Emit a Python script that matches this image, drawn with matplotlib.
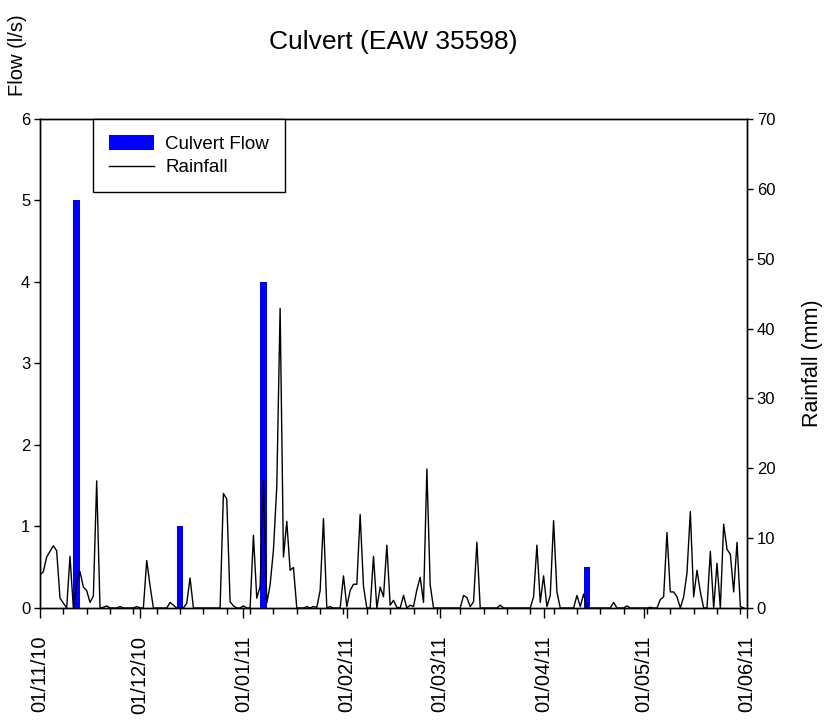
import matplotlib
matplotlib.use("Agg")
import matplotlib.pyplot as plt
import matplotlib.dates as mdates
from matplotlib.patches import Patch
from matplotlib.lines import Line2D
from matplotlib.ticker import FixedLocator
import pandas as pd

plt.rcParams["font.family"] = ["Liberation Sans", "DejaVu Sans"]

# daily rainfall (mm), one value per day starting 01/11/10
rain_start = "2010-11-01"
rainfall_mm = [
    4.7, 5.2, 7.3, 8.1, 8.9, 8.2, 1.4, 0.7, 0.0, 7.4,      # 1-10 Nov
    0.0, 3.5, 5.2, 3.0, 2.5, 0.8, 1.7, 18.2, 0.0, 0.1,     # 11-20 Nov
    0.3, 0.0, 0.0, 0.0, 0.2, 0.0, 0.0, 0.0, 0.0, 0.2,      # 21-30 Nov
    0.0, 0.0, 6.8, 3.2, 0.0, 0.0, 0.0, 0.0, 0.0, 0.8,      # 1-10 Dec
    0.4, 0.0, 0.0, 0.0, 0.7, 4.3, 0.0, 0.0, 0.0, 0.0,      # 11-20 Dec
    0.0, 0.0, 0.0, 0.0, 0.0, 16.4, 15.6, 0.9, 0.3, 0.0,    # 21-30 Dec
    0.0, 0.3, 0.0, 0.0, 10.4, 1.4, 3.1, 18.2, 0.7, 3.3,    # 31 Dec-9 Jan
    8.3, 17.4, 42.9, 7.3, 12.4, 5.4, 5.8, 0.0, 0.0, 0.0,   # 10-19 Jan
    0.2, 0.0, 0.2, 0.1, 2.5, 12.8, 0.0, 0.2, 0.0, 0.0,     # 20-29 Jan
    0.0, 4.6, 0.2, 2.5, 3.4, 3.4, 13.4, 3.1, 0.0, 0.0,     # 30 Jan-8 Feb
    7.4, 0.0, 3.0, 1.6, 9.0, 0.4, 1.1, 0.1, 0.0, 1.8,      # 9-18 Feb
    0.0, 0.4, 0.2, 2.6, 4.4, 0.8, 19.9, 3.3, 0.0, 0.0,     # 19-28 Feb
    0.0, 0.0, 0.0, 0.0, 0.0, 0.0, 0.0, 1.8, 1.5, 0.2,      # 1-10 Mar
    0.9, 9.4, 0.0, 0.0, 0.0, 0.0, 0.0, 0.0, 0.4, 0.0,      # 11-20 Mar
    0.0, 0.0, 0.0, 0.0, 0.0, 0.0, 0.0, 0.0, 1.6, 9.0,      # 21-30 Mar
    0.8, 4.6, 0.2, 1.8, 12.5, 2.3, 0.0, 0.0, 0.0, 0.0,     # 31 Mar-9 Apr
    0.0, 1.8, 0.2, 2.0, 0.0, 0.0, 0.0, 0.0, 0.0, 0.0,      # 10-19 Apr
    0.0, 0.0, 0.8, 0.0, 0.0, 0.0, 0.3, 0.0, 0.0, 0.0,      # 20-29 Apr
    0.0, 0.0, 0.0, 0.1, 0.0, 0.0, 1.2, 1.6, 10.8, 2.3,     # 30 Apr-9 May
    2.3, 1.6, 0.0, 1.6, 5.0, 13.8, 1.6, 5.4, 2.3, 0.0,     # 10-19 May
    0.0, 8.1, 0.0, 6.4, 0.0, 12.0, 8.4, 7.7, 2.3, 9.4,     # 20-29 May
    0.2, 0.0,                                              # 30-31 May
]

flow_dates = ["2010-11-12", "2010-12-13", "2011-01-07", "2011-04-14"]
flow_ls = [5.0, 1.0, 4.0, 0.5]

x_start = pd.Timestamp("2010-11-01")
x_end = pd.Timestamp("2011-06-01")

rain_dates = pd.date_range(rain_start, periods=len(rainfall_mm), freq="D")

fig = plt.figure(figsize=(8.28, 7.22), dpi=100)
ax = fig.add_axes([0.0483, 0.1579, 0.8539, 0.6773])

ax.bar(pd.to_datetime(flow_dates), flow_ls, width=2.0, color="#0000ff",
       align="center", zorder=2)
ax.set_ylim(0, 6)
ax.set_xlim(x_start, x_end)
ax.set_yticks(range(0, 7))

ax.xaxis.set_major_locator(mdates.MonthLocator())
ax.xaxis.set_major_formatter(mdates.DateFormatter("%d/%m/%y"))
weekly = pd.date_range(x_start, x_end, freq="7D")
ax.xaxis.set_minor_locator(FixedLocator(mdates.date2num(weekly)))
ax.tick_params(axis="x", which="major", length=7, width=1, pad=13,
               labelsize=14.5, labelrotation=90)
ax.tick_params(axis="x", which="minor", length=4, width=1)
ax.tick_params(axis="y", length=4, width=1, labelsize=12, pad=3)

ax2 = ax.twinx()
ax2.plot(rain_dates, rainfall_mm, color="black", lw=1.0)
ax2.set_ylim(0, 70)
ax2.set_yticks(range(0, 71, 10))
ax2.tick_params(axis="y", length=4, width=1, labelsize=12, pad=3)

for a in (ax, ax2):
    for s in a.spines.values():
        s.set_linewidth(1.0)

handles = [
    Patch(facecolor="#0000ff", edgecolor="none"),
    Line2D([], [], color="black", lw=1.0),
]
leg = ax2.legend(handles, ["Culvert Flow", "Rainfall"], loc="upper left",
                 bbox_to_anchor=(0.075, 1.0), borderaxespad=0,
                 fancybox=False, framealpha=1, edgecolor="black",
                 fontsize=13.5, handlelength=2.4, handleheight=0.85,
                 labelspacing=0.3, borderpad=0.85, handletextpad=0.6)
leg.get_frame().set_linewidth(1.0)

fig.text(0.4746, 0.942, "Culvert (EAW 35598)", ha="center", va="center",
         fontsize=19)
fig.text(0.0217, 0.924, "Flow (l/s)", rotation=90, ha="center", va="center",
         fontsize=14.5)
fig.text(0.981, 0.497, "Rainfall (mm)", rotation=90, ha="center",
         va="center", fontsize=15.5)

fig.savefig("out.png", dpi=100)
